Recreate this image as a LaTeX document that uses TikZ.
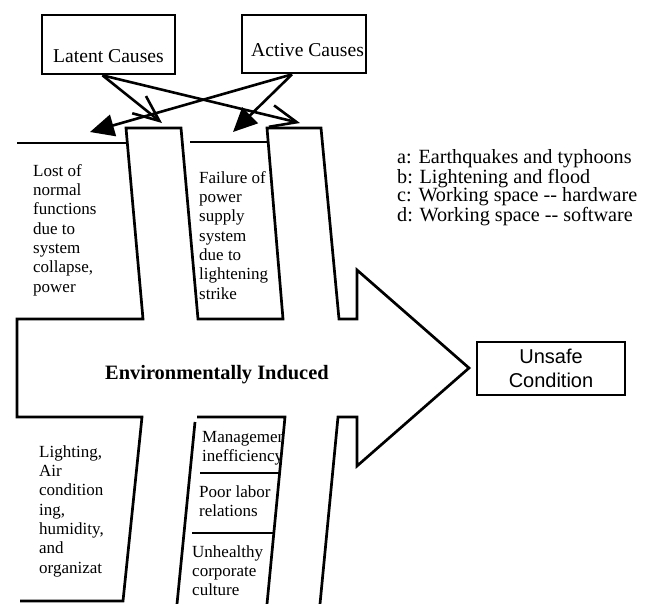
\documentclass[tikz,border=0pt]{standalone}
\usepackage{fontspec}
\setmainfont{Liberation Serif}
\setsansfont{Liberation Sans}
\usetikzlibrary{arrows.meta}
% invisible prop giving every first line the same height
\newcommand\firstln{\rule{0pt}{15pt}}

\begin{document}
\begin{tikzpicture}[x=1pt, y=-1pt,
  outline/.style={line width=2.7pt, line join=miter},
  causebox/.style={draw, line width=2.7pt, minimum width=133pt, minimum height=59pt, inner sep=0pt},
  bigtext/.style={font=\fontsize{19.6}{24}\selectfont, inner sep=0pt},
  coltext/.style={font=\fontsize{17}{19.3}\selectfont, align=left, anchor=north west, inner sep=0pt},
  legend/.style={font=\fontsize{20.2}{18.5}\selectfont, align=left, anchor=north west, inner sep=0pt},
  latentarrow/.style={line width=2.6pt, -{Straight Barb[length=26pt, width=22pt, line width=2.6pt]}},
  activearrow/.style={line width=2.6pt, -{Triangle[length=24pt, width=22pt]}},
]
\useasboundingbox (0,0) rectangle (653,603);

% cause boxes
\node[causebox] (latent) at (108.5,44.5) {};
\node[causebox, minimum width=124pt, minimum height=58pt] (active) at (304,44) {};
\node[bigtext, anchor=base west] (latentlbl) at (53,62.5) {Latent Causes};
\node[bigtext, anchor=base west] (activelbl) at (251,56) {Active Causes};

% arrow end points on the bones
\coordinate (lend1) at (162,123);
\coordinate (lend2) at (300,123);
\coordinate (aend1) at (90,132);
\coordinate (aend2) at (233,132);

\draw[latentarrow] ([xshift=-6pt]latent.south) -- (lend1);
\draw[latentarrow] ([xshift=-6pt]latent.south) -- (lend2);
\draw[activearrow] ([xshift=-12pt]active.south) -- (aend1);
\draw[activearrow] ([xshift=-12pt]active.south) -- (aend2);

% fishbone arrow body with its bones
\draw[outline] (20,601) -- (123,601) -- (142,417) -- (17,417) -- (17,319)
  -- (143,319) -- (126,128) -- (181,128) -- (198,319) -- (283,319)
  -- (267,128) -- (321,128) -- (339,319) -- (357,319) -- (357,270)
  -- (469,368) -- (357,466) -- (357,417) -- (338,417) -- (320,604);
\draw[outline] (17,143) -- (127.3,143);
\draw[outline] (190,142) -- (268.2,142);
\draw[outline] (195,422) -- (177,604);
\draw[outline] (197,417) -- (285,417) -- (267,604);
\draw[outline] (200,473) -- (279,473);
\draw[outline] (192,533) -- (273,533);

% upper bone texts
\node[coltext] (lost) at (33,161) {\firstln Lost of\\normal\\functions\\due to\\system\\collapse,\\power};
\node[coltext] (failure) at (199,168) {\firstln Failure of\\power\\supply\\system\\due to\\lightening\\strike};

% lower bone texts
\node[coltext] (lighting) at (39,442) {\firstln Lighting,\\Air\\condition\\ing,\\humidity,\\and\\organizat};
\begin{scope}
  \clip (195,417) -- (284,417) -- (266,604) -- (177,604) -- cycle;
  \node[coltext] (mgmt) at (202,427) {\firstln Managemen\\inefficiency};
\end{scope}
\node[coltext] (labor) at (199,482) {\firstln Poor labor\\relations};
\node[coltext] (culture) at (192,542) {\firstln Unhealthy\\corporate\\culture};

% centre label
\node[inner sep=0pt, anchor=base west, font=\bfseries\fontsize{20.4}{24}\selectfont] (env) at (105,379) {Environmentally Induced};

% effect
\node[draw, line width=2.7pt, minimum width=148pt, minimum height=53pt, align=center,
  font=\sffamily\fontsize{20}{24}\selectfont] (unsafe) at (551,368.5) {Unsafe\\Condition};

% legend
\node[legend] (legendtxt) at (397,148.5) {\firstln a: Earthquakes and typhoons\\b: Lightening and flood\\c: Working space -{}- hardware\\d: Working space -{}- software};
\end{tikzpicture}
\end{document}
